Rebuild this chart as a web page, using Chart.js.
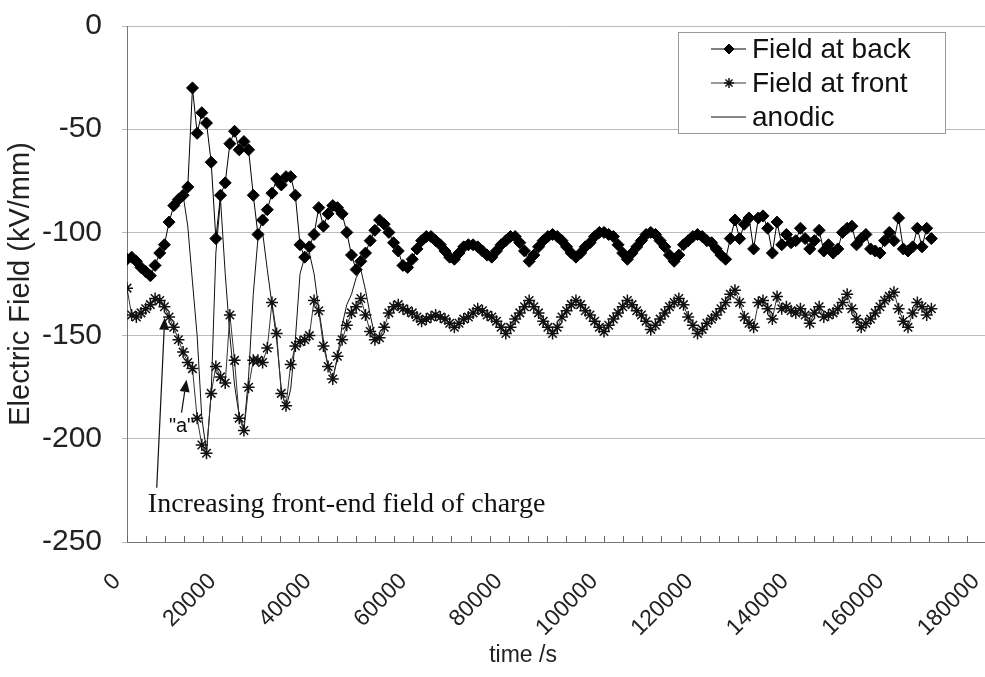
<!DOCTYPE html>
<html>
<head>
<meta charset="utf-8">
<title>Electric field at back and front</title>
<script src="https://cdn.jsdelivr.net/npm/chart.js@4.4.1/dist/chart.umd.min.js"></script>
<style>
  html, body { margin: 0; padding: 0; background: #fff; overflow: hidden; }
  #wrap { width: 985px; height: 677px; overflow: hidden; }
</style>
</head>
<body>
<div id="wrap"><canvas id="fieldChart" width="1003" height="677"></canvas></div>
<script>
// sample times, s
const times = [
  0, 980, 1960, 2940, 3920, 4900, 5880, 6860, 7840, 8820,
  9800, 10780, 11760, 12740, 13720, 14700, 15680, 16660, 17640, 18620,
  19600, 20580, 21560, 22540, 23520, 24500, 25480, 26460, 27440, 28420,
  29400, 30380, 31360, 32340, 33320, 34300, 35280, 36260, 37240, 38220,
  39200, 40180, 41160, 42140, 43120, 44100, 45080, 46060, 47040, 48020,
  49000, 49980, 50960, 51940, 52920, 53900, 54880, 55860, 56840, 57820,
  58800, 59780, 60760, 61740, 62720, 63700, 64680, 65660, 66640, 67620,
  68600, 69580, 70560, 71540, 72520, 73500, 74480, 75460, 76440, 77420,
  78400, 79380, 80360, 81340, 82320, 83300, 84280, 85260, 86240, 87220,
  88200, 89180, 90160, 91140, 92120, 93100, 94080, 95060, 96040, 97020,
  98000, 98980, 99960, 100940, 101920, 102900, 103880, 104860, 105840, 106820,
  107800, 108780, 109760, 110740, 111720, 112700, 113680, 114660, 115640, 116620,
  117600, 118580, 119560, 120540, 121520, 122500, 123480, 124460, 125440, 126420,
  127400, 128380, 129360, 130340, 131320, 132300, 133280, 134260, 135240, 136220,
  137200, 138180, 139160, 140140, 141120, 142100, 143080, 144060, 145040, 146020,
  147000, 147980, 148960, 149940, 150920, 151900, 152880, 153860, 154840, 155820,
  156800, 157780, 158760, 159740, 160720, 161700, 162680, 163660, 164640, 165620,
  166600, 167580, 168560
];

// kV/mm
const fieldBack = [
  -113, -112, -114, -117, -119, -121, -116, -110, -106, -95,
  -87, -84, -82, -78, -30, -52, -42, -47, -66, -103,
  -82, -76, -57, -51, -60, -56, -60, -82, -101, -94,
  -89, -81, -74, -77, -73, -73, -82, -106, -112, -107,
  -101, -88, -97, -91, -87, -88, -91, -100, -111, -118,
  -114, -110, -104, -99, -94, -96, -100, -105, -109, -116,
  -117, -113, -108, -104, -102, -102, -104, -106, -109, -112,
  -113, -110, -107, -106, -106, -107, -109, -111, -112, -109,
  -106, -104, -102, -102, -105, -109, -114, -111, -107, -104,
  -102, -101, -102, -104, -107, -110, -112, -110, -107, -105,
  -102, -100, -100, -101, -102, -106, -110, -113, -110, -107,
  -104, -101, -100, -101, -104, -107, -111, -114, -111, -106,
  -104, -102, -101, -102, -104, -105, -108, -111, -113, -103,
  -94, -103, -96, -93, -108, -93, -92, -98, -110, -95,
  -106, -101, -105, -104, -98, -103, -108, -104, -99, -109,
  -106, -110, -108, -100, -98, -97, -106, -103, -101, -108,
  -109, -110, -104, -100, -104, -93, -108, -109, -107, -98,
  -107, -98, -103
];

const fieldFront = [
  -127, -140, -141, -139, -137, -135, -132, -133, -136, -141,
  -146, -152, -158, -163, -166, -190, -203, -207, -178, -165,
  -170, -173, -140, -162, -190, -196, -175, -162, -162, -163,
  -156, -134, -149, -178, -184, -164, -155, -153, -152, -150,
  -133, -138, -155, -165, -171, -160, -152, -145, -139, -136,
  -132, -140, -148, -152, -151, -146, -139, -136, -135, -137,
  -138, -139, -141, -143, -142, -141, -140, -141, -142, -144,
  -146, -144, -142, -141, -139, -137, -138, -140, -141, -143,
  -146, -149, -146, -142, -139, -136, -133, -136, -139, -143,
  -146, -149, -146, -141, -138, -135, -133, -135, -138, -140,
  -143, -146, -148, -145, -142, -139, -136, -133, -135, -138,
  -140, -143, -147, -145, -142, -139, -136, -134, -132, -135,
  -141, -145, -149, -147, -144, -142, -140, -137, -134, -130,
  -128, -134, -141, -144, -146, -134, -133, -137, -142, -131,
  -137, -136, -138, -139, -137, -140, -144, -139, -136, -141,
  -140, -139, -137, -134, -130, -137, -142, -146, -144, -142,
  -139, -136, -133, -131, -129, -137, -143, -146, -139, -134,
  -136, -140, -137
];

// anodic field only during the initial transient
const anodic = [
  null, null, null, null, null, null, null, null, null, null,
  null, null, -82, -97, -124, -150, -190, -206, -178, -110,
  -84, -120, -150, -174, -189, -195, -170, -130, -103, -100,
  -118, -135, -152, -176, -185, -176, -152, -120, -112, -110,
  -120, -137, -152, -165, -171, -161, -145, -135, -130, -122,
  -118, -128, -140, -150, -151
];

const yTicks = [0, -50, -100, -150, -200, -250];
const xTickLabels = [0, 20000, 40000, 60000, 80000, 100000, 120000, 140000, 160000, 180000];
const xMinorStep = 4000;
const X_MAX = 182000;

const FONT = '"Liberation Sans", Arial, sans-serif';
Chart.defaults.font.family = FONT;
Chart.defaults.color = '#222';

const toPoints = vals => vals.map((v, i) => ({ x: times[i], y: v }));

function arrow(ctx, from, to) {
  const [x0, y0] = from, [x1, y1] = to;
  const ang = Math.atan2(y1 - y0, x1 - x0);
  const len = 12, half = 5;
  const bx = x1 - len * Math.cos(ang), by = y1 - len * Math.sin(ang);
  ctx.save();
  ctx.strokeStyle = '#111';
  ctx.fillStyle = '#111';
  ctx.lineWidth = 1.2;
  ctx.beginPath();
  ctx.moveTo(x0, y0);
  ctx.lineTo(bx, by);
  ctx.stroke();
  ctx.beginPath();
  ctx.moveTo(x1, y1);
  ctx.lineTo(bx + half * Math.sin(ang), by - half * Math.cos(ang));
  ctx.lineTo(bx - half * Math.sin(ang), by + half * Math.cos(ang));
  ctx.closePath();
  ctx.fill();
  ctx.restore();
}

// small inward tick marks along the time axis
const minorTicks = {
  id: 'minorTicks',
  afterDraw(chart) {
    const { ctx, chartArea, scales: { x } } = chart;
    ctx.save();
    ctx.strokeStyle = '#666';
    ctx.lineWidth = 1;
    ctx.beginPath();
    for (let v = 0; v <= x.max; v += xMinorStep) {
      const px = Math.round(x.getPixelForValue(v)) + 0.5;
      ctx.moveTo(px, chartArea.bottom);
      ctx.lineTo(px, chartArea.bottom - 6);
    }
    ctx.stroke();
    ctx.restore();
  }
};

// arrows and text notes, placed in data units
const notes = {
  id: 'notes',
  afterDatasetsDraw(chart) {
    const { ctx, scales: { x, y } } = chart;
    const P = (t, v) => [x.getPixelForValue(t), y.getPixelForValue(v)];
    arrow(ctx, P(6230, -223.7), P(7900, -141.4));
    arrow(ctx, P(11430, -187.3), P(12470, -171.4));
    ctx.save();
    ctx.fillStyle = '#111';
    ctx.textBaseline = 'middle';
    ctx.textAlign = 'left';
    ctx.font = '28px "Liberation Serif", "Times New Roman", serif';
    const [tx, ty] = P(4360, -231.9);
    ctx.fillText('Increasing front-end field of charge', tx, ty);
    ctx.font = '20px ' + FONT;
    ctx.textAlign = 'center';
    const [ax, ay] = P(11430, -194.1);
    ctx.fillText('"a"', ax, ay);
    ctx.restore();
  }
};

// framed legend in the upper right of the plot
const legendBox = {
  id: 'legendBox',
  afterDraw(chart) {
    const { ctx, chartArea } = chart;
    const left = chartArea.left + 551, top = chartArea.top + 6;
    const w = 267, h = 101, rowH = 34;
    ctx.save();
    ctx.fillStyle = '#fff';
    ctx.fillRect(left, top, w, h);
    ctx.strokeStyle = '#999';
    ctx.lineWidth = 1;
    ctx.strokeRect(left + 0.5, top + 0.5, w, h);
    chart.data.datasets.forEach((ds, i) => {
      const cy = top + 17 + i * rowH;
      ctx.strokeStyle = ds.borderColor;
      ctx.lineWidth = ds.borderWidth;
      ctx.beginPath();
      ctx.moveTo(left + 33, cy);
      ctx.lineTo(left + 68, cy);
      ctx.stroke();
      if (ds.pointRadius > 0) {
        ctx.fillStyle = ds.pointBackgroundColor;
        ctx.strokeStyle = ds.pointBorderColor;
        ctx.lineWidth = ds.pointBorderWidth;
        Chart.helpers.drawPoint(ctx, {
          pointStyle: ds.pointStyle, radius: ds.pointRadius - 1,
          borderWidth: ds.pointBorderWidth, rotation: 0
        }, left + 51, cy);
      }
      ctx.fillStyle = '#111';
      ctx.font = '28px ' + FONT;
      ctx.textAlign = 'left';
      ctx.textBaseline = 'middle';
      ctx.fillText(ds.label, left + 74, cy + 1);
    });
    ctx.restore();
  }
};

const xTitle = {
  id: 'xTitle',
  afterDraw(chart) {
    const { ctx, scales: { x } } = chart;
    ctx.save();
    ctx.fillStyle = '#222';
    ctx.font = '23px ' + FONT;
    ctx.textAlign = 'center';
    ctx.textBaseline = 'middle';
    ctx.fillText('time /s', x.getPixelForValue(83000), 656);
    ctx.restore();
  }
};

new Chart(document.getElementById('fieldChart'), {
  type: 'line',
  data: {
    datasets: [
      {
        label: 'Field at back', data: toPoints(fieldBack),
        borderColor: '#000', borderWidth: 1,
        pointStyle: 'rectRot', pointRadius: 6,
        pointBackgroundColor: '#000', pointBorderColor: '#000', pointBorderWidth: 1
      },
      {
        label: 'Field at front', data: toPoints(fieldFront),
        borderColor: '#333', borderWidth: 1,
        pointStyle: 'star', pointRadius: 6,
        pointBackgroundColor: '#111', pointBorderColor: '#111', pointBorderWidth: 1.5
      },
      {
        label: 'anodic', data: toPoints(anodic),
        borderColor: '#111', borderWidth: 1, pointRadius: 0,
        pointBackgroundColor: '#111', pointBorderColor: '#111', pointBorderWidth: 0
      }
    ]
  },
  options: {
    responsive: false,
    animation: false,
    devicePixelRatio: 1,
    layout: { padding: { top: 26, left: 0, right: 0, bottom: 0 } },
    plugins: { legend: { display: false }, tooltip: { enabled: false } },
    elements: { line: { tension: 0 } },
    scales: {
      x: {
        type: 'linear', min: 0, max: X_MAX,
        afterBuildTicks: s => { s.ticks = xTickLabels.map(v => ({ value: v })); },
        afterFit: s => { s.height = 135; s.paddingLeft = 0; s.paddingRight = 0; },
        grid: { display: false, drawTicks: false },
        border: { display: true, color: '#777', width: 1 },
        ticks: {
          autoSkip: false, minRotation: 45, maxRotation: 45, padding: 26, labelOffset: -10,
          font: { size: 23 }, color: '#222', callback: v => String(v)
        }
      },
      y: {
        type: 'linear', min: -250, max: 0,
        afterBuildTicks: s => { s.ticks = yTicks.map(v => ({ value: v })); },
        afterFit: s => { s.width = 127; s.paddingTop = 0; s.paddingBottom = 0; },
        grid: { color: '#bbb', lineWidth: 1, drawTicks: true, tickLength: 5 },
        border: { display: true, color: '#777', width: 1 },
        ticks: { padding: 20, font: { size: 30 }, color: '#222', callback: v => String(v) },
        title: {
          display: true, text: 'Electric Field (kV/mm)',
          font: { size: 29 }, color: '#222', padding: { top: 4, bottom: 0 }
        }
      }
    }
  },
  plugins: [minorTicks, notes, legendBox, xTitle]
});
</script>
</body>
</html>
